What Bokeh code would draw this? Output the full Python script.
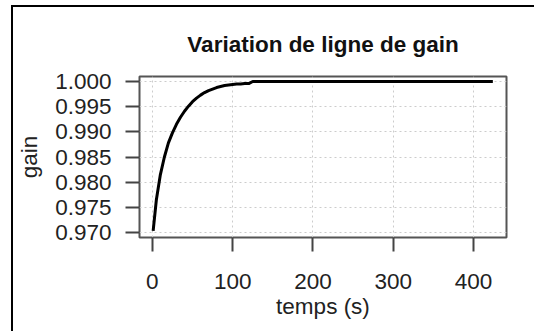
from bokeh.plotting import figure
from bokeh.models import FixedTicker, Range1d
from bokeh.embed import file_html
from bokeh.resources import INLINE

# --- data ---
temps = [1, 5, 10, 15, 20, 25, 30, 35, 40, 45, 50, 55, 60, 65, 70, 75, 80, 85,
         90, 95, 100, 105, 110, 115, 120, 125, 130, 135, 140, 145, 150, 155,
         160, 165, 170, 175, 180, 185, 190, 195, 200, 205, 210, 215, 220, 225,
         230, 235, 240, 245, 250, 255, 260, 265, 270, 275, 280, 285, 290, 295,
         300, 305, 310, 315, 320, 325, 330, 335, 340, 345, 350, 355, 360, 365,
         370, 375, 380, 385, 390, 395, 400, 405, 410, 415, 420, 424]
gain = [0.9703, 0.9765, 0.9815, 0.9850, 0.9878, 0.9898, 0.9915, 0.9929, 0.9941,
        0.9951, 0.9960, 0.9967, 0.9973, 0.9978, 0.9982, 0.9985, 0.9988, 0.9990,
        0.9992, 0.9993, 0.9994, 0.9995, 0.9995, 0.9996, 0.9996,
        1.0000, 1.0000, 1.0000, 1.0000, 1.0000, 1.0000, 1.0000, 1.0000, 1.0000,
        1.0000, 1.0000, 1.0000, 1.0000, 1.0000, 1.0000, 1.0000, 1.0000, 1.0000,
        1.0000, 1.0000, 1.0000, 1.0000, 1.0000, 1.0000, 1.0000, 1.0000, 1.0000,
        1.0000, 1.0000, 1.0000, 1.0000, 1.0000, 1.0000, 1.0000, 1.0000, 1.0000,
        1.0000, 1.0000, 1.0000, 1.0000, 1.0000, 1.0000, 1.0000, 1.0000, 1.0000,
        1.0000, 1.0000, 1.0000, 1.0000, 1.0000, 1.0000, 1.0000, 1.0000, 1.0000,
        1.0000, 1.0000, 1.0000, 1.0000, 1.0000, 1.0000, 1.0000]
x_ticks = [0, 100, 200, 300, 400]
y_ticks = [0.970, 0.975, 0.980, 0.985, 0.990, 0.995, 1.000]
title_text = "Variation de ligne de gain"
x_title = "temps (s)"
y_title = "gain"

FONT = "Liberation Sans"

p = figure(width=523, height=326, output_backend="svg", toolbar_location=None,
           x_range=Range1d(-16, 441), y_range=Range1d(0.9690, 1.0010),
           title=title_text,
           min_border_left=126, min_border_right=30,
           min_border_top=69, min_border_bottom=96,
           styles={"border-left": "2px solid black", "border-top": "2px solid black",
                   "margin-top": "5px", "margin-left": "11px"})

p.title.align = "center"
p.title.text_font = FONT
p.title.text_font_size = "22.5px"
p.title.text_font_style = "bold"
p.title.text_color = "#111111"
p.title.standoff = 40

p.outline_line_color = "#555555"
p.outline_line_width = 2
p.background_fill_color = "white"
p.border_fill_color = "white"

for ax in (p.xaxis[0], p.yaxis[0]):
    ax.axis_line_color = None
    ax.major_tick_line_color = "#444444"
    ax.major_tick_line_width = 2
    ax.major_tick_out = 14
    ax.major_tick_in = 0
    ax.minor_tick_line_color = None
    ax.major_label_text_font = FONT
    ax.major_label_text_font_size = "22.5px"
    ax.major_label_text_color = "#222222"
    ax.axis_label_text_font = FONT
    ax.axis_label_text_font_size = "22.5px"
    ax.axis_label_text_font_style = "normal"
    ax.axis_label_text_color = "#222222"

p.xaxis.ticker = FixedTicker(ticks=x_ticks)
p.yaxis.ticker = FixedTicker(ticks=y_ticks)
p.yaxis.major_label_overrides = {v: f"{v:.3f}" for v in y_ticks}
p.xaxis.major_label_standoff = 22
p.yaxis.major_label_standoff = 14
p.xaxis.axis_label = x_title
p.yaxis.axis_label = y_title
p.xaxis.axis_label_standoff = 2
p.yaxis.axis_label_standoff = 10

p.grid.grid_line_color = "#cccccc"
p.grid.grid_line_dash = "2 3"
p.grid.grid_line_width = 1

p.line(temps, gain, line_color="black", line_width=3)

open("out.html", "w").write(file_html(p, INLINE))
